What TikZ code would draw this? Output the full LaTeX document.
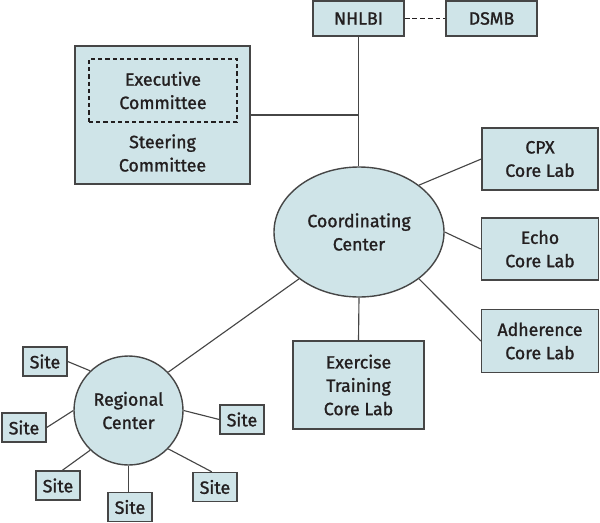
\documentclass[tikz,border=0pt]{standalone}
\usepackage{fontspec}
\setmainfont{Fira Sans}[UprightFeatures={FakeBold=1.3}]
\usetikzlibrary{shapes.geometric}
\definecolor{boxfill}{RGB}{207,228,232}
\definecolor{boxline}{RGB}{70,70,70}
\definecolor{txt}{RGB}{35,31,32}
\tikzset{
  base/.style={draw=boxline, line width=1.05pt, fill=boxfill, inner sep=0pt, align=center,
    text=txt, font=\fontsize{13.3}{17.5}\selectfont},
  rbox/.style 2 args={base, rectangle, minimum width=#1*0.75pt, minimum height=#2*0.75pt},
  sitebox/.style={rbox={44}{29}},
  conn/.style={draw=boxline, line width=0.85pt},
  dashconn/.style={draw=txt, line width=1.2pt, dash pattern=on 3.6pt off 2.2pt},
}
\begin{document}
\begin{tikzpicture}[x=0.75pt, y=-0.75pt]
\useasboundingbox (0,0) rectangle (600,522);
% top
\node[rbox={91}{35}] (nhlbi) at (358.5,18.5) {NHLBI};
\node[rbox={91}{35}] (dsmb) at (491.5,18.5) {DSMB};
% steering
\node[rbox={175}{138}] (steer) at (162.5,115) {};
\node[draw=txt, line width=1.05pt, dash pattern=on 3.2pt off 2.2pt, minimum width=148*0.75pt, minimum height=63*0.75pt,
  inner sep=0pt, align=center, text=txt, font=\fontsize{13.3}{17.5}\selectfont] (exec) at (163,90.5) {Executive\\Committee};
\node[align=center, text=txt, inner sep=0pt, font=\fontsize{13.3}{17.5}\selectfont] (steertxt) at (162.5,153) {Steering\\Committee};
% coordinating center
\node[base, ellipse, minimum width=170*0.75pt, minimum height=130*0.75pt] (coord) at (359,232) {Coordinating\\Center};
% core labs
\node[rbox={116}{62}] (cpx) at (540,159) {CPX\\Core Lab};
\node[rbox={117}{62}] (echo) at (540,249) {Echo\\Core Lab};
\node[rbox={117}{63}] (adh) at (540,341) {Adherence\\Core Lab};
\node[rbox={131}{88}] (ex) at (358.5,385) {Exercise\\Training\\Core Lab};
% regional
\node[base, circle, minimum size=109*0.75pt] (reg) at (128.5,410.5) {Regional\\Center};
\node[sitebox] (s1) at (45,361.5) {Site};
\node[sitebox] (s2) at (24,427.5) {Site};
\node[sitebox] (s3) at (58,485.5) {Site};
\node[sitebox] (s4) at (130,507) {Site};
\node[sitebox] (s5) at (215,487) {Site};
\node[sitebox] (s6) at (242,419.5) {Site};
% connectors
\coordinate (junc) at (nhlbi.south |- steer.east);
\draw[conn] (nhlbi.south) -- (nhlbi.south |- coord.north);
\draw[conn] (steer.east) -- (junc);
\draw[dashconn] (nhlbi.east) -- (dsmb.west);
\draw[conn] (coord.38) -- (cpx.west);
\draw[conn] (coord.east) -- (echo.west);
\draw[conn] (coord.-38) -- (adh.west);
\draw[conn] (coord.south) -- (ex.north);
\draw[conn] (coord.218) -- (reg.44);
\draw[conn] (s1.east) -- (reg.134);
\draw[conn] (s2.east) -- (reg.west);
\draw[conn] (s3.74) -- (reg.226);
\draw[conn] (reg.south) -- (reg.south |- s4.north);
\draw[conn] (s5.102) -- (reg.-44);
\draw[conn] (s6.west) -- (reg.east);
\end{tikzpicture}
\end{document}
